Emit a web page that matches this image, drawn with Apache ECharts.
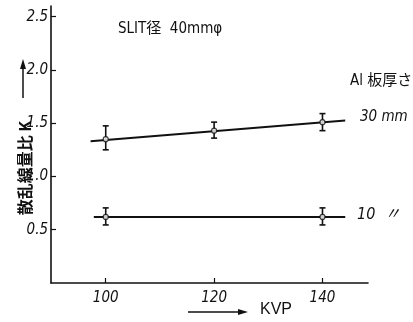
<!DOCTYPE html>
<html><head><meta charset="utf-8">
<script src="https://cdn.jsdelivr.net/npm/echarts@6/dist/echarts.min.js"></script>
<style>html,body{margin:0;padding:0;background:#fff}#c{width:413px;height:322px}</style>
</head><body><div id="c"></div>
<script>
// Data
const kvp30 = [100, 120, 140];
const k30 = [1.35, 1.43, 1.51];
const k30Low = [1.25, 1.36, 1.43];
const k30High = [1.475, 1.51, 1.59];
const kvp10 = [100, 140];
const k10 = [0.62, 0.62];
const k10Low = [0.545, 0.545];
const k10High = [0.705, 0.705];
const fit30X = [97.2, 144.2];
const fit30Y = [1.33, 1.525];
const fit10X = [97.8, 144.2];
const fit10Y = [0.62, 0.62];
const xTicks = [100, 120, 140];
const yTicks = [0.5, 1.0, 1.5, 2.0, 2.5];

const narrow = '"DejaVu Sans Condensed", "Liberation Sans Narrow", sans-serif';
const tickFont = {fontFamily: narrow, fontStyle: 'italic', fontSize: 15, color: '#111'};
const chart = echarts.init(document.getElementById('c'), null, {renderer: 'canvas'});

function errItem(params, api) {
  const x = api.value(0), lo = api.value(1), hi = api.value(2);
  const pLo = api.coord([x, lo]), pHi = api.coord([x, hi]);
  const w = 3;
  const st = {stroke: '#111', lineWidth: 1.6};
  return {type: 'group', children: [
    {type: 'line', shape: {x1: pLo[0], y1: pLo[1], x2: pHi[0], y2: pHi[1]}, style: st},
    {type: 'line', shape: {x1: pLo[0]-w, y1: pLo[1], x2: pLo[0]+w, y2: pLo[1]}, style: st},
    {type: 'line', shape: {x1: pHi[0]-w, y1: pHi[1], x2: pHi[0]+w, y2: pHi[1]}, style: st}
  ]};
}

const zip = (a, b) => a.map((v, i) => [v, b[i]]);
const zip3 = (a, b, c) => a.map((v, i) => [v, b[i], c[i]]);

chart.setOption({
  animation: false,
  grid: {left: 51, right: 45, top: 6, bottom: 39},
  xAxis: {
    type: 'value', min: 89.9, max: 148.4,
    axisLine: {lineStyle: {color: '#111', width: 1.6}},
    axisTick: {inside: true, length: 5, lineStyle: {color: '#111', width: 1.2}, customValues: xTicks},
    axisLabel: Object.assign({customValues: xTicks, margin: 8}, tickFont),
    splitLine: {show: false}
  },
  yAxis: {
    type: 'value', min: 0, max: 2.6,
    axisLine: {show: true, lineStyle: {color: '#111', width: 1.6}},
    axisTick: {show: true, inside: true, length: 5, lineStyle: {color: '#111', width: 1.2}, customValues: yTicks},
    axisLabel: Object.assign({customValues: yTicks, margin: 3, formatter: v => v.toFixed(1)}, tickFont),
    splitLine: {show: false}
  },
  series: [
    {type: 'line', data: zip(fit30X, fit30Y), symbol: 'none', lineStyle: {color: '#111', width: 2}, z: 2},
    {type: 'line', data: zip(fit10X, fit10Y), symbol: 'none', lineStyle: {color: '#111', width: 2}, z: 2},
    {type: 'custom', renderItem: errItem, data: zip3(kvp30, k30Low, k30High), z: 3},
    {type: 'custom', renderItem: errItem, data: zip3(kvp10, k10Low, k10High), z: 3},
    {type: 'scatter', data: zip(kvp30, k30), symbol: 'circle', symbolSize: 5, itemStyle: {color: '#fff', borderColor: '#111', borderWidth: 1.2}, z: 4},
    {type: 'scatter', data: zip(kvp10, k10), symbol: 'circle', symbolSize: 5, itemStyle: {color: '#fff', borderColor: '#111', borderWidth: 1.2}, z: 4}
  ],
  graphic: [
    {type: 'text', left: 118, top: 22, style: {text: 'SLIT径  40mmφ', font: '15px ' + narrow.replace('sans-serif', '"Noto Sans CJK JP", sans-serif'), fill: '#111'}},
    {type: 'text', left: 350, top: 74, style: {text: 'Al 板厚さ', font: '15px ' + narrow.replace('sans-serif', '"Noto Sans CJK JP", sans-serif'), fill: '#111'}},
    {type: 'text', left: 360, top: 110, style: {text: '30 mm', font: 'italic 15px ' + narrow, fill: '#111'}},
    {type: 'text', left: 357, top: 207, style: {text: '10  〃', font: 'italic 16px ' + narrow.replace('sans-serif', '"Noto Sans CJK JP", sans-serif'), fill: '#111'}},
    {type: 'text', x: 25, y: 168, rotation: Math.PI / 2, style: {text: '散乱線量比 K', font: 'bold 16px "Noto Sans CJK JP", sans-serif', fill: '#111', align: 'center', verticalAlign: 'middle'}},
    {type: 'line', shape: {x1: 23, y1: 98, x2: 23, y2: 66}, style: {stroke: '#111', lineWidth: 1.5}},
    {type: 'polygon', shape: {points: [[23, 59], [20, 69], [26, 69]]}, style: {fill: '#111'}},
    {type: 'text', left: 260, top: 302, style: {text: 'KVP', font: '16px "Liberation Sans", sans-serif', fill: '#111'}},
    {type: 'line', shape: {x1: 188, y1: 312, x2: 240, y2: 312}, style: {stroke: '#111', lineWidth: 1.5}},
    {type: 'polygon', shape: {points: [[248, 312], [238, 309], [238, 315]]}, style: {fill: '#111'}}
  ]
});
</script></body></html>
